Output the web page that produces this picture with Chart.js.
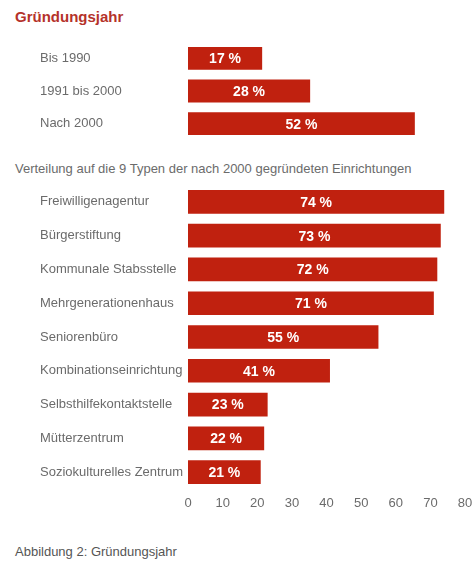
<!DOCTYPE html>
<html>
<head>
<meta charset="utf-8">
<script src="https://cdn.jsdelivr.net/npm/chart.js@4.4.1/dist/chart.umd.min.js"></script>
<style>
  body { margin: 0; background: #fff; width: 474px; height: 563px; position: relative; overflow: hidden;
         font-family: "Liberation Sans", Arial, sans-serif; }
  .txt { position: absolute; white-space: nowrap; }
  #title { left: 15px; top: 7px; font-size: 15px; line-height: 20px; font-weight: bold; color: #b5322a; }
  #sub { left: 15px; top: 161px; font-size: 13px; line-height: 16px; color: #6b6b6b; }
  #caption { left: 15px; top: 544px; font-size: 13px; line-height: 16px; color: #555; }
  #topWrap { position: absolute; left: 40px; top: 42px; width: 434px; height: 98px; }
  #bottomWrap { position: absolute; left: 40px; top: 185px; width: 434px; height: 326px; }
</style>
</head>
<body>
<div id="title" class="txt">Gründungsjahr</div>
<div id="sub" class="txt">Verteilung auf die 9 Typen der nach 2000 gegründeten Einrichtungen</div>
<div id="caption" class="txt">Abbildung 2: Gründungsjahr</div>
<div id="topWrap"><canvas id="topChart"></canvas></div>
<div id="bottomWrap"><canvas id="bottomChart"></canvas></div>
<script>
// Gründungsjahr
const periodLabels = ["Bis 1990", "1991 bis 2000", "Nach 2000"];
const periodValues = [17, 28, 52];

// nach 2000 gegründet, nach Typ
const typeLabels = [
  "Freiwilligenagentur", "Bürgerstiftung", "Kommunale Stabsstelle",
  "Mehrgenerationenhaus", "Seniorenbüro", "Kombinationseinrichtung",
  "Selbsthilfekontaktstelle", "Mütterzentrum", "Soziokulturelles Zentrum"
];
const typeValues = [74, 73, 72, 71, 55, 41, 23, 22, 21];

const xMin = 0, xMax = 80, xStep = 10;

const barRed = "#c0210f";
const fontFamily = "'Liberation Sans', Arial, sans-serif";
const labelFont = { family: fontFamily, size: 13 };

// draws "NN %" centred in each bar
const valueLabels = {
  id: "valueLabels",
  afterDatasetsDraw(chart) {
    const ctx = chart.ctx;
    const meta = chart.getDatasetMeta(0);
    const vals = chart.data.datasets[0].data;
    ctx.save();
    ctx.fillStyle = "#fff";
    ctx.font = "bold 14px " + fontFamily;
    ctx.textAlign = "center";
    ctx.textBaseline = "middle";
    meta.data.forEach((bar, i) => {
      ctx.fillText(vals[i] + " %", (bar.base + bar.x) / 2, bar.y + 1);
    });
    ctx.restore();
  }
};

function makeChart(id, labels, values, xmaxVal, showX) {
  return new Chart(document.getElementById(id), {
    type: "bar",
    data: {
      labels: labels,
      datasets: [{ data: values, backgroundColor: barRed, borderWidth: 0,
                   barPercentage: 0.7, categoryPercentage: 1 }]
    },
    options: {
      indexAxis: "y",
      responsive: true,
      maintainAspectRatio: false,
      animation: false,
      layout: { padding: { left: 0, right: 9, top: 0, bottom: 0 } },
      plugins: { legend: { display: false }, tooltip: { enabled: false } },
      scales: {
        y: {
          grid: { display: false, drawTicks: false },
          border: { display: false },
          ticks: { color: "#6b6b6b", font: labelFont, crossAlign: "far", padding: 0 },
          afterFit: s => { s.width = 148; s.paddingTop = 0; s.paddingBottom = 0; }
        },
        x: {
          min: xMin, max: xmaxVal,
          display: showX,
          grid: { display: false, drawTicks: false },
          border: { display: false },
          ticks: { stepSize: xStep, color: "#6b6b6b", font: labelFont, padding: 7 },
          afterFit: s => {
            s.paddingLeft = 0; s.paddingRight = 0;
            if (showX) s.height = 22;
          }
        }
      }
    },
    plugins: [valueLabels]
  });
}

// the upper block is drawn on its own, wider scale (as in the original figure)
makeChart("topChart", periodLabels, periodValues, 63.5, false);
makeChart("bottomChart", typeLabels, typeValues, xMax, true);
</script>
</body>
</html>
